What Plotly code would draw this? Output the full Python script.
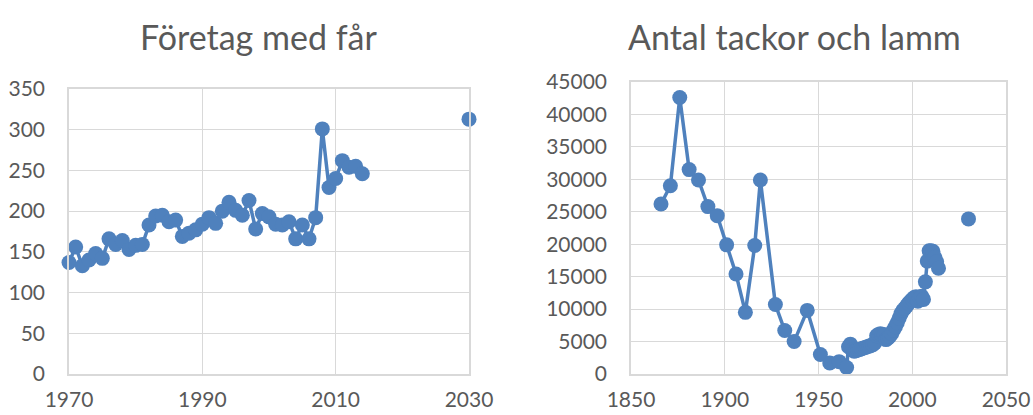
import plotly.graph_objects as go

# Left chart: Företag med får
left_years = list(range(1970, 2015))
left_values = [137, 156, 133, 140, 148, 142, 166, 159, 164, 153, 158, 159, 183, 194, 195,
               187, 189, 169, 173, 177, 184, 192, 185, 200, 211, 201, 195, 213, 178, 197,
               193, 184, 183, 187, 166, 183, 166, 192, 301, 229, 240, 262, 254, 255, 246]
left_extra_years = [2030]
left_extra_values = [313]

# Right chart: Antal tackor och lamm
right_years = [1866, 1871, 1876, 1881, 1886, 1891, 1896, 1901, 1906, 1911, 1916, 1919,
               1927, 1932, 1937, 1944, 1951, 1956, 1961, 1965] + list(range(1966, 2015))
right_values = [26200, 29000, 42600, 31500, 29900, 25800, 24400, 19900, 15400, 9500, 19800, 29900,
                10700, 6700, 5000, 9800, 3000, 1700, 1900, 1000,
                4200, 4600, 3700, 3500, 3600, 3700, 3800, 3900, 4000, 4100, 4200, 4300, 4400, 4500,
                4800, 5900, 6100, 6200, 6000, 6100, 5300, 5500, 5800, 6200, 6800, 7300, 7900, 8600,
                9300, 9800, 10100, 10500, 10900, 11200, 11500, 11800, 11900, 11200, 11800, 12000,
                11500, 14200, 17400, 19000, 19000, 18900, 18000, 17300, 16300]
right_extra_years = [2030]
right_extra_values = [23900]

BLUE = "#4F81BD"
GRID = "#D9D9D9"
TXT = "#595959"
FONT = "Lato"

fig = go.Figure()
for xs, ys, xa, ya, mode in [
    (left_years, left_values, "x", "y", "lines+markers"),
    (left_extra_years, left_extra_values, "x", "y", "markers"),
    (right_years, right_values, "x2", "y2", "lines+markers"),
    (right_extra_years, right_extra_values, "x2", "y2", "markers"),
]:
    fig.add_trace(go.Scatter(x=xs, y=ys, xaxis=xa, yaxis=ya, mode=mode,
                             line=dict(color=BLUE, width=3.5),
                             marker=dict(color=BLUE, size=15),
                             showlegend=False, cliponaxis=False))

axis_common = dict(showgrid=True, gridcolor=GRID, gridwidth=1, zeroline=False,
                   showline=True, linecolor=GRID, linewidth=1.5, mirror=True,
                   automargin=False, tickformat="d",
                   ticks="", tickfont=dict(family=FONT, size=21, color=TXT))

fig.update_layout(
    width=1033, height=415,
    margin=dict(l=0, r=0, t=0, b=0, autoexpand=False),
    paper_bgcolor="white", plot_bgcolor="white",
    xaxis=dict(domain=[69/1033, 469/1033], range=[1970, 2030], dtick=20, tick0=1970,
               anchor="y", ticklabelstandoff=6, **axis_common),
    yaxis=dict(domain=[41/415, 326/415], range=[0, 350], dtick=50, anchor="x",
               ticklabelstandoff=18, **axis_common),
    xaxis2=dict(domain=[631/1033, 1006/1033], range=[1850, 2050], dtick=50, tick0=1850,
                anchor="y2", ticklabelstandoff=6, **axis_common),
    yaxis2=dict(domain=[41/415, 333/415], range=[0, 45000], dtick=5000, anchor="x2",
                ticklabelstandoff=18, **axis_common),
    annotations=[
        dict(text="Företag med får", x=258/1033, y=1-37/415, xref="paper", yref="paper",
             xanchor="center", yanchor="middle", showarrow=False,
             font=dict(family=FONT, size=34, color=TXT)),
        dict(text="Antal tackor och lamm", x=794/1033, y=1-37/415, xref="paper", yref="paper",
             xanchor="center", yanchor="middle", showarrow=False,
             font=dict(family=FONT, size=34, color=TXT)),
    ],
)

fig.write_html("out.html", config={"displayModeBar": False},
               post_script="document.body.style.margin='0';document.body.style.overflow='hidden';")
